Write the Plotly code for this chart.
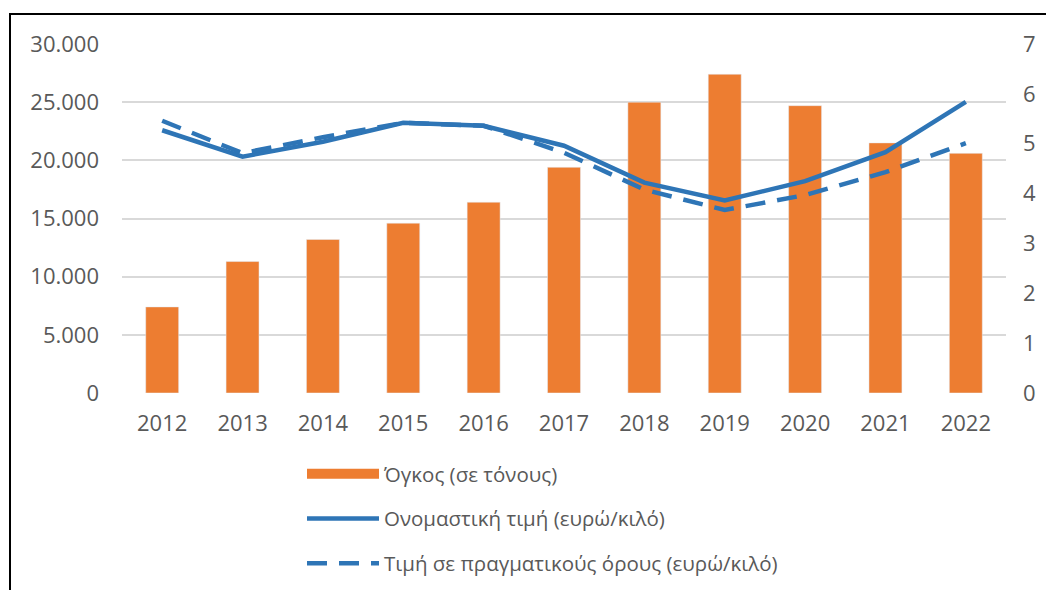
import plotly.graph_objects as go

years = ["2012", "2013", "2014", "2015", "2016", "2017", "2018", "2019", "2020", "2021", "2022"]
volume_tons = [7400, 11300, 13200, 14600, 16400, 19400, 25000, 27400, 24700, 21500, 20600]
nominal_price = [5.27, 4.74, 5.04, 5.42, 5.36, 4.96, 4.22, 3.86, 4.25, 4.83, 5.84]
real_price = [5.46, 4.81, 5.13, 5.42, 5.36, 4.82, 4.08, 3.67, 3.97, 4.43, 5.01]

y_left_ticks = [0, 5000, 10000, 15000, 20000, 25000, 30000]
y_left_labels = ["0", "5.000", "10.000", "15.000", "20.000", "25.000", "30.000"]
y_right_ticks = [0, 1, 2, 3, 4, 5, 6, 7]

names = ["Όγκος (σε τόνους)", "Ονομαστική τιμή (ευρώ/κιλό)", "Τιμή σε πραγματικούς όρους (ευρώ/κιλό)"]

ORANGE = "#ED7D31"
BLUE = "#2E75B6"
GREY = "#595959"
FONT = "Open Sans"

fig = go.Figure()
fig.add_trace(go.Bar(x=years, y=volume_tons, name=names[0], marker_color=ORANGE,
                     width=0.41, showlegend=False, legendgroup="g1", yaxis="y"))
# legend entry for the bars drawn as a wide rectangle
fig.add_trace(go.Scatter(x=[None], y=[None], mode="lines", name=names[0], legendgroup="g1",
                         line=dict(color=ORANGE, width=12), yaxis="y"))
fig.add_trace(go.Scatter(x=years, y=nominal_price, name=names[1], mode="lines", legendgroup="g2",
                         line=dict(color=BLUE, width=4.5), yaxis="y2"))
fig.add_trace(go.Scatter(x=years, y=real_price, name=names[2], mode="lines", legendgroup="g3",
                         line=dict(color=BLUE, width=4.5, dash="20px,12px"), yaxis="y2"))

L, R, T, B = 122, 40, 44, 197
W, H = 1046, 590
pw, ph = W - L - R, H - T - B

fig.update_layout(
    width=W, height=H,
    margin=dict(l=L, r=R, t=T, b=B, pad=0, autoexpand=False),
    paper_bgcolor="white", plot_bgcolor="white",
    font=dict(family=FONT, size=20, color=GREY),
    xaxis=dict(type="category", showgrid=False, showline=False, ticks="",
               tickfont=dict(size=22, color=GREY), ticklabelstandoff=15),
    yaxis=dict(range=[0, 30000], tickvals=y_left_ticks, ticktext=y_left_labels,
               showgrid=True, gridcolor="#D9D9D9", gridwidth=1.5, zeroline=False,
               showline=False, ticks="", tickfont=dict(size=22, color=GREY),
               ticklabelstandoff=22),
    yaxis2=dict(range=[0, 7], tickvals=y_right_ticks, overlaying="y", side="right",
                showgrid=False, zeroline=False, showline=False, ticks="",
                tickfont=dict(size=22, color=GREY), ticklabelstandoff=16),
    legend=dict(orientation="v", x=(302 - L) / pw, xanchor="left",
                y=-(454 - T - ph) / ph, yanchor="top",
                yref="paper", itemwidth=72, tracegroupgap=15,
                font=dict(size=20.5, color=GREY), bgcolor="rgba(0,0,0,0)"),
    shapes=[dict(type="rect", xref="paper", yref="paper",
                 x0=(10 - L) / pw, x1=(1100 - L) / pw,
                 y0=-(650 - T - ph) / ph, y1=(ph + T - 14) / ph,
                 line=dict(color="black", width=2), fillcolor="rgba(0,0,0,0)", layer="above")],
)

fig.write_html("out.html", config={"displayModeBar": False},
               post_script="document.body.style.margin='0';document.body.style.overflow='hidden';")
